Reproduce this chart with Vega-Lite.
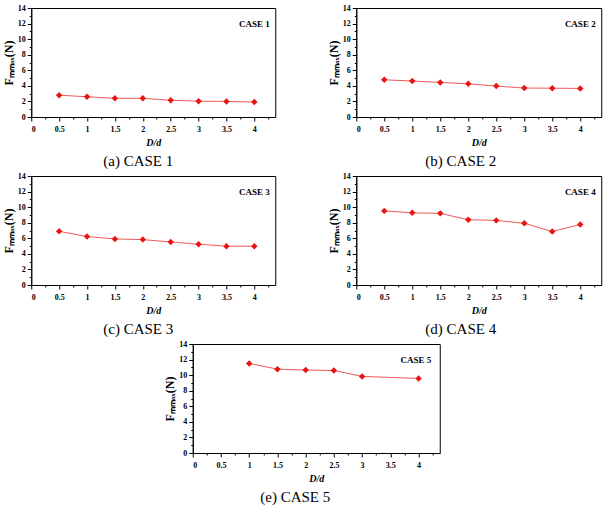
{
  "$schema": "https://vega.github.io/schema/vega-lite/v6.json",
  "padding": {"left": 1, "top": 3, "right": 1, "bottom": 2},
  "data": {"name": "force"},
  "datasets": {
    "force": [
      {"case": 1, "dd": 0.5, "f": 2.8}, {"case": 1, "dd": 1, "f": 2.6}, {"case": 1, "dd": 1.5, "f": 2.4}, {"case": 1, "dd": 2, "f": 2.4},
      {"case": 1, "dd": 2.5, "f": 2.15}, {"case": 1, "dd": 3, "f": 2.03}, {"case": 1, "dd": 3.5, "f": 2.0}, {"case": 1, "dd": 4, "f": 1.93},
      {"case": 2, "dd": 0.5, "f": 4.78}, {"case": 2, "dd": 1, "f": 4.62}, {"case": 2, "dd": 1.5, "f": 4.44}, {"case": 2, "dd": 2, "f": 4.26},
      {"case": 2, "dd": 2.5, "f": 3.97}, {"case": 2, "dd": 3, "f": 3.72}, {"case": 2, "dd": 3.5, "f": 3.7}, {"case": 2, "dd": 4, "f": 3.67},
      {"case": 3, "dd": 0.5, "f": 6.9}, {"case": 3, "dd": 1, "f": 6.22}, {"case": 3, "dd": 1.5, "f": 5.92}, {"case": 3, "dd": 2, "f": 5.83},
      {"case": 3, "dd": 2.5, "f": 5.53}, {"case": 3, "dd": 3, "f": 5.24}, {"case": 3, "dd": 3.5, "f": 4.98}, {"case": 3, "dd": 4, "f": 4.98},
      {"case": 4, "dd": 0.5, "f": 9.52}, {"case": 4, "dd": 1, "f": 9.27}, {"case": 4, "dd": 1.5, "f": 9.2}, {"case": 4, "dd": 2, "f": 8.38},
      {"case": 4, "dd": 2.5, "f": 8.3}, {"case": 4, "dd": 3, "f": 7.93}, {"case": 4, "dd": 3.5, "f": 6.87}, {"case": 4, "dd": 4, "f": 7.77},
      {"case": 5, "dd": 1, "f": 11.5}, {"case": 5, "dd": 1.5, "f": 10.77}, {"case": 5, "dd": 2, "f": 10.65},
      {"case": 5, "dd": 2.5, "f": 10.6}, {"case": 5, "dd": 3, "f": 9.84}, {"case": 5, "dd": 4, "f": 9.57}
    ]
  },
  "center": true,
  "spacing": 1,
  "vconcat": [
    {
      "spacing": 50,
      "hconcat": [
        {
          "width": 244, "height": 109,
          "title": {"text": "(a) CASE  1", "dx": -15},
          "resolve": {"axis": {"x": "independent", "y": "independent"}},
          "layer": [
            {
              "transform": [{"filter": "datum.case === 1"}],
              "mark": {"type": "line", "color": "#f05a5a", "strokeWidth": 1},
              "encoding": {
                "x": {"field": "dd", "type": "quantitative", "scale": {"domain": [0, 4.375], "nice": false},
                  "axis": {"values": [0, 0.5, 1, 1.5, 2, 2.5, 3, 3.5, 4], "labelExpr": "'' + datum.value", "tickSize": 4, "title": "D/d"}},
                "y": {"field": "f", "type": "quantitative", "scale": {"domain": [0, 14], "nice": false},
                  "axis": {"values": [0, 2, 4, 6, 8, 10, 12, 14], "labelExpr": "'' + datum.value", "tickSize": 4, "title": "Fₘₘₐₓ(N)"}}
              }
            },
            {
              "transform": [{"filter": "datum.case === 1"}],
              "mark": {"type": "point", "shape": "diamond", "filled": true, "opacity": 1, "color": "#e81414", "size": 42},
              "encoding": {
                "x": {"field": "dd", "type": "quantitative", "scale": {"domain": [0, 4.375], "nice": false},
                  "axis": {"orient": "bottom", "values": [0.25, 0.75, 1.25, 1.75, 2.25, 2.75, 3.25, 3.75, 4.25], "labels": false, "domain": false, "tickSize": 2, "title": null}},
                "y": {"field": "f", "type": "quantitative", "scale": {"domain": [0, 14], "nice": false},
                  "axis": {"orient": "left", "values": [1, 3, 5, 7, 9, 11, 13], "labels": false, "domain": false, "tickSize": 2, "title": null}}
              }
            },
            {
              "data": {"values": [{"dd": 4, "f": 12, "label": "CASE 1"}]},
              "mark": {"type": "text", "font": "Liberation Serif", "fontWeight": "bold", "fontSize": 9, "color": "black"},
              "encoding": {
                "x": {"field": "dd", "type": "quantitative", "scale": {"domain": [0, 4.375], "nice": false}, "axis": null},
                "y": {"field": "f", "type": "quantitative", "scale": {"domain": [0, 14], "nice": false}, "axis": null},
                "text": {"field": "label"}
              }
            }
          ]
        },
        {
          "width": 245, "height": 109,
          "title": {"text": "(b) CASE  2", "dx": -18},
          "resolve": {"axis": {"x": "independent", "y": "independent"}},
          "layer": [
            {
              "transform": [{"filter": "datum.case === 2"}],
              "mark": {"type": "line", "color": "#f05a5a", "strokeWidth": 1},
              "encoding": {
                "x": {"field": "dd", "type": "quantitative", "scale": {"domain": [0, 4.375], "nice": false},
                  "axis": {"values": [0, 0.5, 1, 1.5, 2, 2.5, 3, 3.5, 4], "labelExpr": "'' + datum.value", "tickSize": 4, "title": "D/d"}},
                "y": {"field": "f", "type": "quantitative", "scale": {"domain": [0, 14], "nice": false},
                  "axis": {"values": [0, 2, 4, 6, 8, 10, 12, 14], "labelExpr": "'' + datum.value", "tickSize": 4, "title": "Fₘₘₐₓ(N)"}}
              }
            },
            {
              "transform": [{"filter": "datum.case === 2"}],
              "mark": {"type": "point", "shape": "diamond", "filled": true, "opacity": 1, "color": "#e81414", "size": 42},
              "encoding": {
                "x": {"field": "dd", "type": "quantitative", "scale": {"domain": [0, 4.375], "nice": false},
                  "axis": {"orient": "bottom", "values": [0.25, 0.75, 1.25, 1.75, 2.25, 2.75, 3.25, 3.75, 4.25], "labels": false, "domain": false, "tickSize": 2, "title": null}},
                "y": {"field": "f", "type": "quantitative", "scale": {"domain": [0, 14], "nice": false},
                  "axis": {"orient": "left", "values": [1, 3, 5, 7, 9, 11, 13], "labels": false, "domain": false, "tickSize": 2, "title": null}}
              }
            },
            {
              "data": {"values": [{"dd": 4, "f": 12, "label": "CASE 2"}]},
              "mark": {"type": "text", "font": "Liberation Serif", "fontWeight": "bold", "fontSize": 9, "color": "black"},
              "encoding": {
                "x": {"field": "dd", "type": "quantitative", "scale": {"domain": [0, 4.375], "nice": false}, "axis": null},
                "y": {"field": "f", "type": "quantitative", "scale": {"domain": [0, 14], "nice": false}, "axis": null},
                "text": {"field": "label"}
              }
            }
          ]
        }
      ]
    },
    {
      "spacing": 50,
      "hconcat": [
        {
          "width": 244, "height": 109,
          "title": {"text": "(c) CASE  3", "dx": -15},
          "resolve": {"axis": {"x": "independent", "y": "independent"}},
          "layer": [
            {
              "transform": [{"filter": "datum.case === 3"}],
              "mark": {"type": "line", "color": "#f05a5a", "strokeWidth": 1},
              "encoding": {
                "x": {"field": "dd", "type": "quantitative", "scale": {"domain": [0, 4.375], "nice": false},
                  "axis": {"values": [0, 0.5, 1, 1.5, 2, 2.5, 3, 3.5, 4], "labelExpr": "'' + datum.value", "tickSize": 4, "title": "D/d"}},
                "y": {"field": "f", "type": "quantitative", "scale": {"domain": [0, 14], "nice": false},
                  "axis": {"values": [0, 2, 4, 6, 8, 10, 12, 14], "labelExpr": "'' + datum.value", "tickSize": 4, "title": "Fₘₘₐₓ(N)"}}
              }
            },
            {
              "transform": [{"filter": "datum.case === 3"}],
              "mark": {"type": "point", "shape": "diamond", "filled": true, "opacity": 1, "color": "#e81414", "size": 42},
              "encoding": {
                "x": {"field": "dd", "type": "quantitative", "scale": {"domain": [0, 4.375], "nice": false},
                  "axis": {"orient": "bottom", "values": [0.25, 0.75, 1.25, 1.75, 2.25, 2.75, 3.25, 3.75, 4.25], "labels": false, "domain": false, "tickSize": 2, "title": null}},
                "y": {"field": "f", "type": "quantitative", "scale": {"domain": [0, 14], "nice": false},
                  "axis": {"orient": "left", "values": [1, 3, 5, 7, 9, 11, 13], "labels": false, "domain": false, "tickSize": 2, "title": null}}
              }
            },
            {
              "data": {"values": [{"dd": 4, "f": 12, "label": "CASE 3"}]},
              "mark": {"type": "text", "font": "Liberation Serif", "fontWeight": "bold", "fontSize": 9, "color": "black"},
              "encoding": {
                "x": {"field": "dd", "type": "quantitative", "scale": {"domain": [0, 4.375], "nice": false}, "axis": null},
                "y": {"field": "f", "type": "quantitative", "scale": {"domain": [0, 14], "nice": false}, "axis": null},
                "text": {"field": "label"}
              }
            }
          ]
        },
        {
          "width": 245, "height": 109,
          "title": {"text": "(d) CASE  4", "dx": -18},
          "resolve": {"axis": {"x": "independent", "y": "independent"}},
          "layer": [
            {
              "transform": [{"filter": "datum.case === 4"}],
              "mark": {"type": "line", "color": "#f05a5a", "strokeWidth": 1},
              "encoding": {
                "x": {"field": "dd", "type": "quantitative", "scale": {"domain": [0, 4.375], "nice": false},
                  "axis": {"values": [0, 0.5, 1, 1.5, 2, 2.5, 3, 3.5, 4], "labelExpr": "'' + datum.value", "tickSize": 4, "title": "D/d"}},
                "y": {"field": "f", "type": "quantitative", "scale": {"domain": [0, 14], "nice": false},
                  "axis": {"values": [0, 2, 4, 6, 8, 10, 12, 14], "labelExpr": "'' + datum.value", "tickSize": 4, "title": "Fₘₘₐₓ(N)"}}
              }
            },
            {
              "transform": [{"filter": "datum.case === 4"}],
              "mark": {"type": "point", "shape": "diamond", "filled": true, "opacity": 1, "color": "#e81414", "size": 42},
              "encoding": {
                "x": {"field": "dd", "type": "quantitative", "scale": {"domain": [0, 4.375], "nice": false},
                  "axis": {"orient": "bottom", "values": [0.25, 0.75, 1.25, 1.75, 2.25, 2.75, 3.25, 3.75, 4.25], "labels": false, "domain": false, "tickSize": 2, "title": null}},
                "y": {"field": "f", "type": "quantitative", "scale": {"domain": [0, 14], "nice": false},
                  "axis": {"orient": "left", "values": [1, 3, 5, 7, 9, 11, 13], "labels": false, "domain": false, "tickSize": 2, "title": null}}
              }
            },
            {
              "data": {"values": [{"dd": 4, "f": 12, "label": "CASE 4"}]},
              "mark": {"type": "text", "font": "Liberation Serif", "fontWeight": "bold", "fontSize": 9, "color": "black"},
              "encoding": {
                "x": {"field": "dd", "type": "quantitative", "scale": {"domain": [0, 4.375], "nice": false}, "axis": null},
                "y": {"field": "f", "type": "quantitative", "scale": {"domain": [0, 14], "nice": false}, "axis": null},
                "text": {"field": "label"}
              }
            }
          ]
        }
      ]
    },
    {
      "width": 247, "height": 109,
      "title": {"text": "(e) CASE  5", "dx": -21},
      "resolve": {"axis": {"x": "independent", "y": "independent"}},
      "layer": [
        {
          "transform": [{"filter": "datum.case === 5"}],
          "mark": {"type": "line", "color": "#f05a5a", "strokeWidth": 1},
          "encoding": {
            "x": {"field": "dd", "type": "quantitative", "scale": {"domain": [0, 4.375], "nice": false},
              "axis": {"values": [0, 0.5, 1, 1.5, 2, 2.5, 3, 3.5, 4], "labelExpr": "'' + datum.value", "tickSize": 4, "title": "D/d"}},
            "y": {"field": "f", "type": "quantitative", "scale": {"domain": [0, 14], "nice": false},
              "axis": {"values": [0, 2, 4, 6, 8, 10, 12, 14], "labelExpr": "'' + datum.value", "tickSize": 4, "title": "Fₘₘₐₓ(N)"}}
          }
        },
        {
          "transform": [{"filter": "datum.case === 5"}],
          "mark": {"type": "point", "shape": "diamond", "filled": true, "opacity": 1, "color": "#e81414", "size": 42},
          "encoding": {
            "x": {"field": "dd", "type": "quantitative", "scale": {"domain": [0, 4.375], "nice": false},
              "axis": {"orient": "bottom", "values": [0.25, 0.75, 1.25, 1.75, 2.25, 2.75, 3.25, 3.75, 4.25], "labels": false, "domain": false, "tickSize": 2, "title": null}},
            "y": {"field": "f", "type": "quantitative", "scale": {"domain": [0, 14], "nice": false},
              "axis": {"orient": "left", "values": [1, 3, 5, 7, 9, 11, 13], "labels": false, "domain": false, "tickSize": 2, "title": null}}
          }
        },
        {
          "data": {"values": [{"dd": 3.95, "f": 12, "label": "CASE 5"}]},
          "mark": {"type": "text", "font": "Liberation Serif", "fontWeight": "bold", "fontSize": 9, "color": "black"},
          "encoding": {
            "x": {"field": "dd", "type": "quantitative", "scale": {"domain": [0, 4.375], "nice": false}, "axis": null},
            "y": {"field": "f", "type": "quantitative", "scale": {"domain": [0, 14], "nice": false}, "axis": null},
            "text": {"field": "label"}
          }
        }
      ]
    }
  ],
  "config": {
    "font": "Liberation Serif",
    "background": "white",
    "view": {"stroke": "black", "strokeWidth": 1},
    "axis": {
      "grid": false,
      "domainColor": "black", "domainWidth": 1,
      "tickColor": "black", "tickWidth": 1,
      "labelFont": "Liberation Serif", "labelFontWeight": "bold", "labelFontSize": 8, "labelColor": "black",
      "labelOverlap": false, "labelPadding": 2,
      "titleFont": "Liberation Serif", "titleFontWeight": "bold", "titleColor": "black"
    },
    "axisX": {"titleFontStyle": "italic", "titleFontSize": 10, "titlePadding": 4, "labelPadding": 4},
    "axisY": {"titleFontSize": 12, "titlePadding": 2},
    "title": {"font": "Liberation Serif", "fontSize": 15, "fontWeight": "normal", "color": "black", "orient": "bottom", "anchor": "middle", "frame": "group", "offset": 7}
  }
}
